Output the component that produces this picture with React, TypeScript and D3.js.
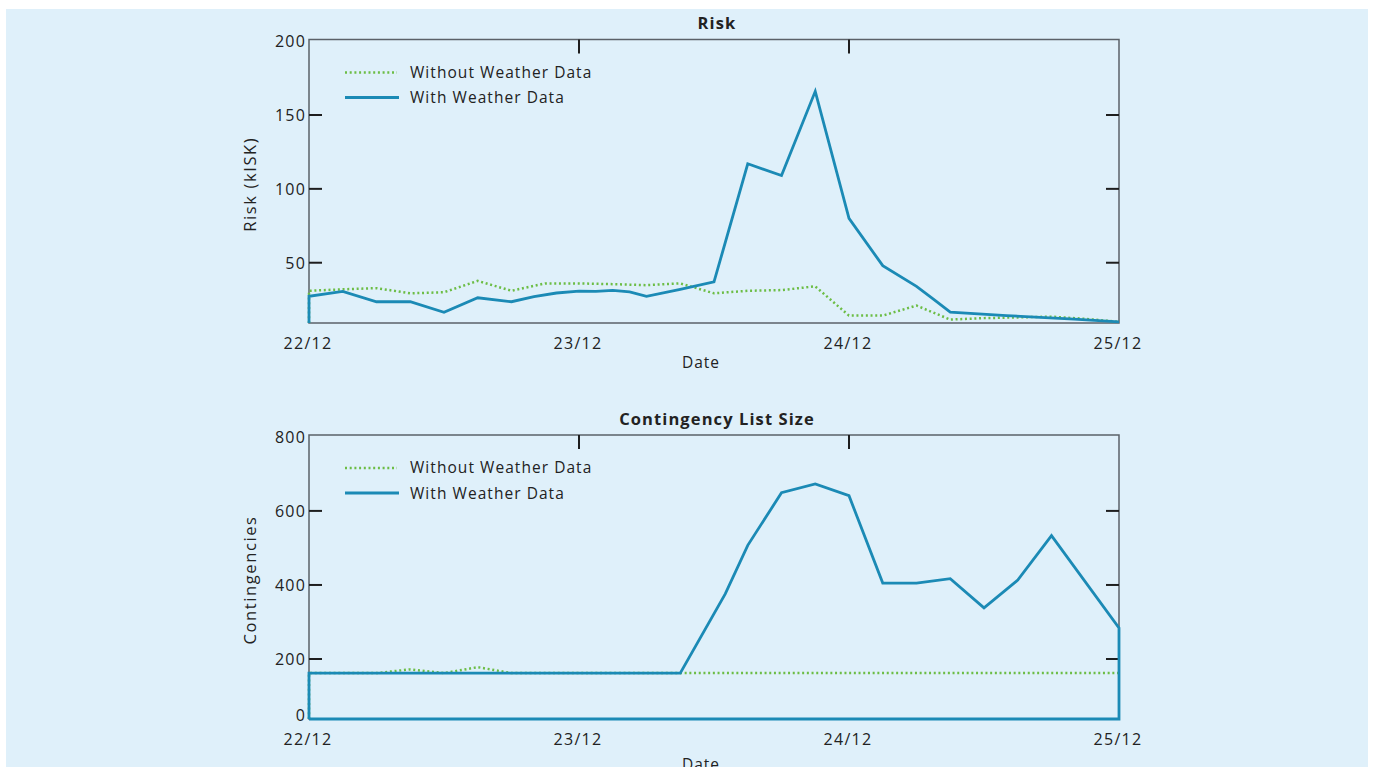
import React from "react";
import * as d3 from "d3";

// ---- data ----
const dayTicks = [0, 24, 48, 72];
const dayLabels = ["22/12", "23/12", "24/12", "25/12"];

const riskTicks = [50, 100, 150];
const riskLabels = [50, 100, 150, 200];
const contTicks = [200, 400, 600];
const contLabels = [0, 200, 400, 600, 800];

const riskWithoutHours = [0, 0, 3, 6, 9, 12, 15, 18, 21, 24, 27, 30, 33, 36, 39, 42, 45, 48, 51, 54, 57, 60, 63, 66, 69, 72];
const riskWithoutValues = [0, 31, 32, 32.8, 29.3, 30, 37.7, 31, 36, 36, 35.5, 34.8, 36, 29.3, 31, 31.5, 34, 14.2, 14.2, 21, 11.5, 12.5, 13, 13.5, 12, 10];

const riskWithHours = [0, 0, 3, 6, 9, 12, 15, 18, 20, 22, 24, 25.5, 27, 28.5, 30, 33, 36, 39, 42, 45, 48, 51, 54, 55.5, 57, 62, 68, 72];
const riskWithValues = [0, 27.3, 30.6, 23.6, 23.6, 16.5, 26.3, 23.6, 27, 29.5, 30.8, 30.6, 31.3, 30.3, 27.3, 32, 37, 117, 109, 166, 80, 48, 34, 25.4, 16.5, 14.2, 11.8, 10];

const contWithoutHours = [0, 0, 3, 6, 9, 12, 15, 18, 21, 24, 36, 48, 60, 72];
const contWithoutValues = [0, 162, 162, 162, 172, 162, 178, 162, 162, 162, 162, 162, 162, 162];

const contWithHours = [0, 0, 33, 37, 39, 42, 45, 48, 51, 54, 57, 60, 63, 66, 72, 72, 0];
const contWithValues = [0, 162, 162, 376, 507, 649, 673, 641, 405, 405, 417, 338, 413, 533, 284, 0, 0];

// ---- style ----
const BG = "#dff0fa";
const BLUE = "#1b8ab5";
const GREEN = "#6cbd45";
const FRAME = "#5b6168";
const TICK = "#1e1e1e";
const TEXT = "#222";
const FONT = "'Open Sans', 'Noto Sans', sans-serif";

type PanelProps = {
  title: string;
  yLabel: string;
  top: number;
  bottom: number;
  dateDy: number;
  yDomain: [number, number];
  yTicks: number[];
  yLabels: number[];
  without: { h: number[]; v: number[] };
  withW: { h: number[]; v: number[] };
};

const X0 = 309;
const X1 = 1119;

function Panel({ title, yLabel, top, bottom, dateDy, yDomain, yTicks, yLabels, without, withW }: PanelProps) {
  const x = d3.scaleLinear().domain([0, 72]).range([X0, X1]);
  const y = d3.scaleLinear().domain(yDomain).range([bottom, top]).clamp(true);
  const line = d3
    .line<[number, number]>()
    .x((d) => x(d[0]))
    .y((d) => y(d[1]));
  const wo = line(without.h.map((h, i) => [h, without.v[i]] as [number, number])) || "";
  const wi = line(withW.h.map((h, i) => [h, withW.v[i]] as [number, number])) || "";
  return (
    <g>
      <text x={717} y={top - 17} textAnchor="middle" dominantBaseline="central" fontFamily={FONT} fontWeight={700} fontSize={16.5} letterSpacing={1.1} fill={TEXT}>
        {title}
      </text>
      <rect x={X0} y={top} width={X1 - X0} height={bottom - top} fill="none" stroke={FRAME} strokeWidth={1.5} />
      {yTicks.map((t) => (
        <g key={t}>
          <line x1={X0} x2={X0 + 13} y1={y(t)} y2={y(t)} stroke={TICK} strokeWidth={2} />
          <line x1={X1 - 13} x2={X1} y1={y(t)} y2={y(t)} stroke={TICK} strokeWidth={2} />
        </g>
      ))}
      {dayTicks.slice(1, 3).map((t) => (
        <line key={t} x1={x(t)} x2={x(t)} y1={top} y2={top + 14} stroke={TICK} strokeWidth={2} />
      ))}
      {yLabels.map((t) => (
        <text key={t} x={X0 - 3} y={y(t) + (y(t) <= top ? 4 : t <= yDomain[0] ? -4 : 0)} textAnchor="end" dominantBaseline="central" fontFamily={FONT} fontSize={16} letterSpacing={1.2} fill={TEXT}>
          {t}
        </text>
      ))}
      {dayTicks.map((t, i) => (
        <text key={t} x={x(t) - 1} y={bottom + 20} textAnchor="middle" dominantBaseline="central" fontFamily={FONT} fontSize={16} letterSpacing={1.3} fill={TEXT}>
          {dayLabels[i]}
        </text>
      ))}
      <text x={701} y={bottom + dateDy} textAnchor="middle" dominantBaseline="central" fontFamily={FONT} fontSize={15.5} letterSpacing={1} fill={TEXT}>
        Date
      </text>
      <text transform={`translate(249,${(top + bottom) / 2 + 3}) rotate(-90)`} textAnchor="middle" dominantBaseline="central" fontFamily={FONT} fontSize={16.5} letterSpacing={1.6} fill={TEXT}>
        {yLabel}
      </text>
      <path d={wo} fill="none" stroke={GREEN} strokeWidth={2.5} strokeDasharray="2 2.7" />
      <path d={wi} fill="none" stroke={BLUE} strokeWidth={2.8} strokeLinejoin="miter" />
      {/* legend */}
      <line x1={345} x2={397} y1={top + 33} y2={top + 33} stroke={GREEN} strokeWidth={2.5} strokeDasharray="2 2.7" />
      <text x={410} y={top + 32} dominantBaseline="central" fontFamily={FONT} fontSize={15.5} letterSpacing={1.05} fill={TEXT}>
        Without Weather Data
      </text>
      <line x1={345} x2={399} y1={top + 58} y2={top + 58} stroke={BLUE} strokeWidth={2.8} />
      <text x={410} y={top + 57.5} dominantBaseline="central" fontFamily={FONT} fontSize={15.5} letterSpacing={1.05} fill={TEXT}>
        With Weather Data
      </text>
    </g>
  );
}

export default function App() {
  return (
    <svg width={1373} height={767} style={{ position: "fixed", left: 0, top: 0, display: "block" }}>
      <rect x={0} y={0} width={1373} height={767} fill="#ffffff" />
      <rect x={6} y={9} width={1362} height={758} fill={BG} />
      <Panel
        title="Risk"
        yLabel="Risk (kISK)"
        top={39.5}
        bottom={323}
        dateDy={39}
        yDomain={[9.2, 201.1]}
        yTicks={riskTicks}
        yLabels={riskLabels}
        without={{ h: riskWithoutHours, v: riskWithoutValues }}
        withW={{ h: riskWithHours, v: riskWithValues }}
      />
      <Panel
        title="Contingency List Size"
        yLabel="Contingencies"
        top={435}
        bottom={719}
        dateDy={45}
        yDomain={[38, 805]}
        yTicks={contTicks}
        yLabels={contLabels}
        without={{ h: contWithoutHours, v: contWithoutValues }}
        withW={{ h: contWithHours, v: contWithValues }}
      />
    </svg>
  );
}
